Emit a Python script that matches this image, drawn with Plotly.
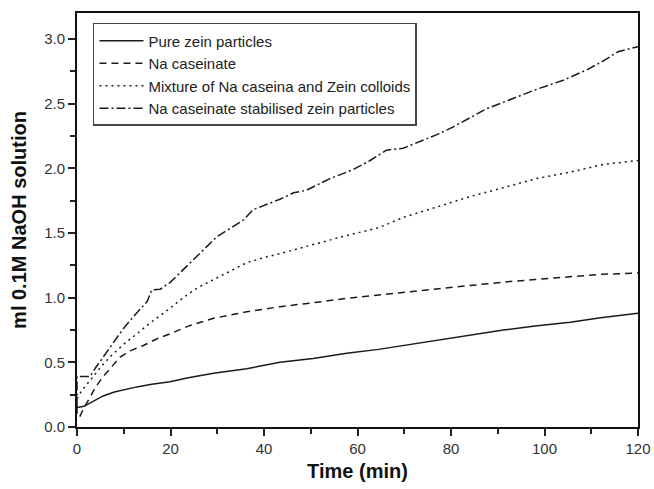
import plotly.graph_objects as go

# Pure zein particles
t_zein = [0, 0, 1.5, 3, 5.6, 8, 12.8, 16, 19.9, 23.8, 29.2, 36.3, 43.4, 50.5, 57.7,
          64.5, 70, 76.9, 84, 91.2, 98, 105.5, 112, 120]
v_zein = [0.10, 0.15, 0.16, 0.19, 0.24, 0.27, 0.31, 0.33, 0.35, 0.38, 0.415, 0.45, 0.50,
          0.53, 0.57, 0.60, 0.63, 0.67, 0.71, 0.75, 0.78, 0.81, 0.845, 0.88]

# Na caseinate
t_cas = [0.6, 1.5, 2.8, 4, 5.6, 7.5, 9.2, 11.5, 14.2, 17, 19.9, 23.8, 29.2, 36.3, 43.4,
         50.5, 57.7, 64.5, 70, 76.9, 84, 91.2, 98, 105.5, 112, 120]
v_cas = [0.08, 0.15, 0.23, 0.31, 0.39, 0.47, 0.54, 0.59, 0.63, 0.68, 0.72, 0.78, 0.84,
         0.89, 0.93, 0.96, 0.995, 1.02, 1.04, 1.07, 1.095, 1.12, 1.14, 1.16, 1.18, 1.19]

# Mixture of Na caseina and Zein colloids
t_mix = [0, 1, 2.8, 5, 7, 10, 12.8, 15.5, 18.5, 21, 23.5, 26, 29.2, 32.5, 36.3, 40, 43.4,
         50.5, 57.7, 64.5, 69.8, 76.9, 84, 91.2, 98.3, 105.5, 112.6, 120]
v_mix = [0.22, 0.28, 0.36, 0.46, 0.54, 0.64, 0.72, 0.80, 0.88, 0.95, 1.02, 1.08, 1.14,
         1.20, 1.27, 1.31, 1.34, 1.41, 1.48, 1.54, 1.62, 1.70, 1.78, 1.85, 1.92, 1.97,
         2.03, 2.06]

# Na caseinate stabilised zein particles
t_stab = [0, 0, 2.8, 4, 5.6, 7.5, 9.9, 12, 13.8, 15, 16, 17.8, 20, 23.5, 26.5, 29.9, 33,
          35.6, 37.7, 40.5, 43.4, 46.3, 49.1, 54.1, 59.1, 62.7, 66.2, 69.8, 73.4, 77,
          80.5, 84, 87.6, 92.6, 98.3, 104, 109, 112.6, 115.7, 120]
v_stab = [0.15, 0.39, 0.39, 0.46, 0.54, 0.64, 0.76, 0.85, 0.92, 0.97, 1.06, 1.065, 1.12,
          1.24, 1.35, 1.47, 1.54, 1.60, 1.68, 1.72, 1.76, 1.81, 1.83, 1.92, 1.99, 2.06,
          2.14, 2.155, 2.21, 2.26, 2.32, 2.39, 2.46, 2.53, 2.61, 2.68, 2.76, 2.83, 2.90,
          2.94]

names = ["Pure zein particles", "Na caseinate",
         "Mixture of Na caseina and Zein colloids",
         "Na caseinate stabilised zein particles"]

series = [(t_zein, v_zein, "solid"),
          (t_cas, v_cas, "7px,5px"),
          (t_mix, v_mix, "2px,4px"),
          (t_stab, v_stab, "9px,3px,2px,3px")]

FONT = "Arial, Liberation Sans"

fig = go.Figure()
for (t, v, dash), name in zip(series, names):
    fig.add_trace(go.Scatter(x=t, y=v, mode="lines", name=name,
                             line=dict(color="#1a1a1a", width=1.5, dash=dash)))

axis_common = dict(
    showgrid=False, zeroline=False, showline=True, linecolor="#111", linewidth=2,
    mirror=True, ticks="outside", ticklen=7, tickwidth=1.5, tickcolor="#222",
    tickfont=dict(family=FONT, size=15, color="#333"), automargin=False,
)

fig.update_xaxes(range=[0, 120], dtick=20, tick0=0,
                 minor=dict(dtick=10, ticks="outside", ticklen=5, tickwidth=1.5,
                            tickcolor="#222"),
                 title=dict(text="<b>Time (min)</b>", standoff=8,
                            font=dict(family=FONT, size=20, color="#111")),
                 **axis_common)
fig.update_yaxes(range=[0, 3.2], dtick=0.5, tick0=0, tickformat=".1f",
                 minor=dict(dtick=0.25, ticks="outside", ticklen=5, tickwidth=1.5,
                            tickcolor="#222"),
                 title=dict(text="<b>ml 0.1M NaOH solution</b>", standoff=12,
                            font=dict(family=FONT, size=20, color="#111")),
                 **axis_common)

fig.update_layout(
    width=654, height=489,
    margin=dict(l=77, r=16, t=13, b=62),
    paper_bgcolor="white", plot_bgcolor="white",
    showlegend=True,
    legend=dict(x=0.0285, y=0.976, xanchor="left", yanchor="top",
                bgcolor="white", bordercolor="#444", borderwidth=1.5,
                font=dict(family=FONT, size=15, color="#222"),
                tracegroupgap=0, itemwidth=44),
)

fig.write_html("out.html")
